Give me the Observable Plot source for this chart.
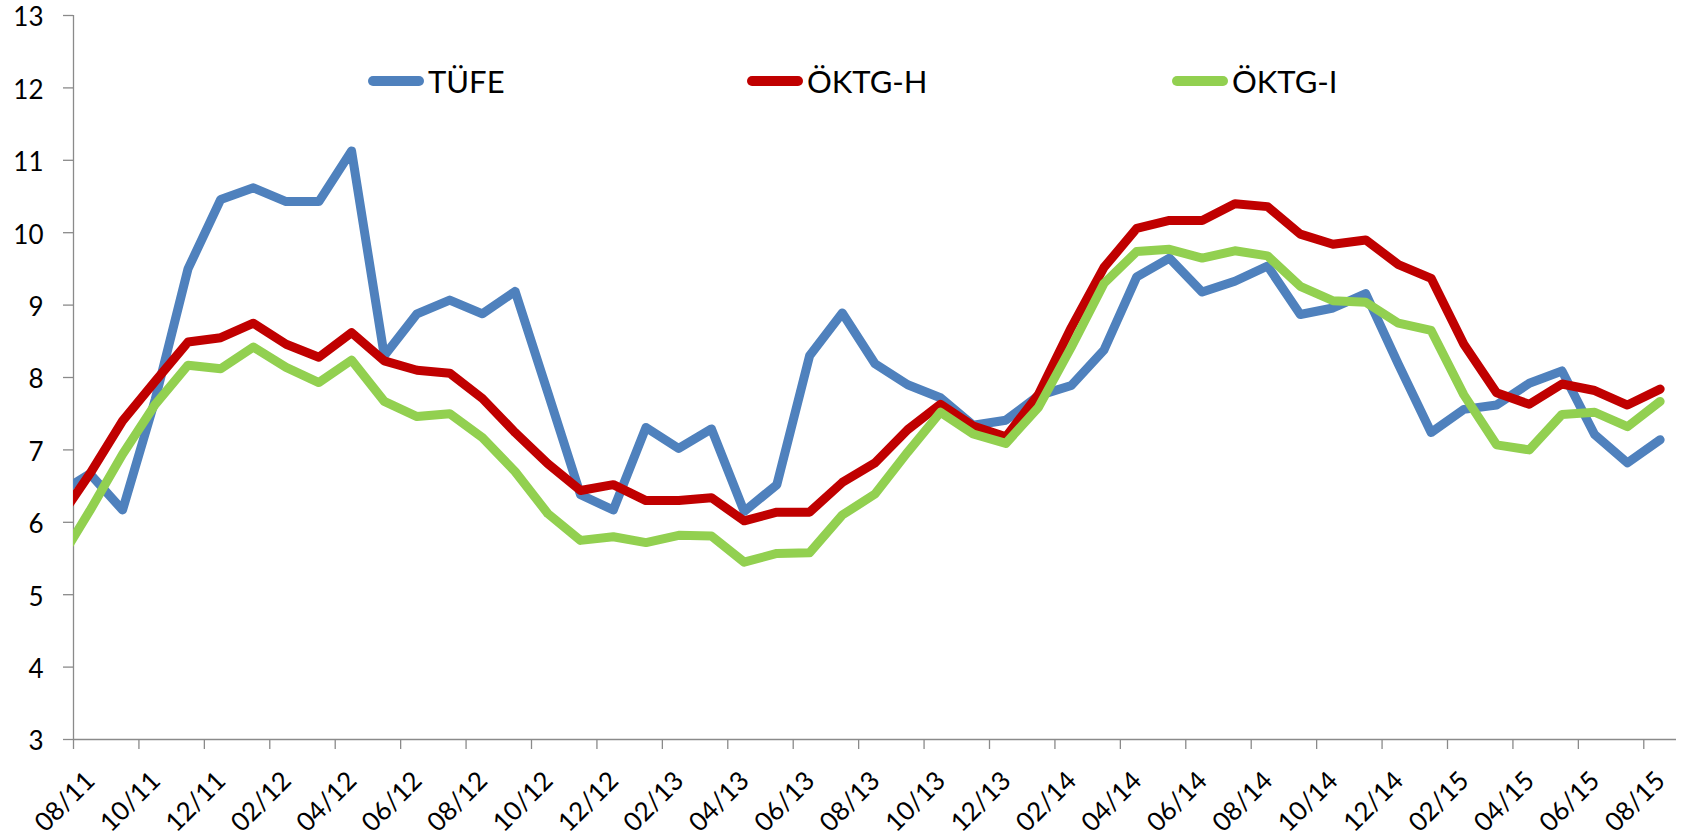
<!DOCTYPE html>
<html>
<head>
<meta charset="utf-8">
<script src="https://cdn.jsdelivr.net/npm/d3@7"></script>
<script src="https://cdn.jsdelivr.net/npm/@observablehq/plot@0.6"></script>
<style>
  html, body { margin: 0; padding: 0; background: #fff; }
  #wrap { position: relative; width: 1685px; height: 840px; font-family: Lato, "Open Sans", sans-serif; }
  .legend-item { position: absolute; display: flex; align-items: center; font-size: 31px; line-height: 36px; color: #000; white-space: nowrap; }
  .swatch { width: 56px; height: 10px; border-radius: 5px; margin-right: 4px; }
</style>
</head>
<body>
<div id="wrap"></div>
<script>
// Series (first value = 07/11, which lies just left of the axis start and is clipped)
const seriesNames = ["TÜFE", "ÖKTG-H", "ÖKTG-I"];
const seriesColors = ["#4F81BD", "#C00000", "#92D050"];

// Monthly values 07/11 … 08/15
const tufe = [6.39,
  6.67, 6.17, 7.70, 9.50, 10.46, 10.62, 10.43, 10.43, 11.13, 8.30, 8.88, 9.07,
  8.88, 9.19, 7.79, 6.38, 6.17, 7.31, 7.02, 7.29, 6.15, 6.52, 8.30, 8.89,
  8.19, 7.90, 7.72, 7.34, 7.41, 7.75, 7.89, 8.38, 9.39, 9.65, 9.18, 9.33,
  9.54, 8.87, 8.96, 9.16, 8.18, 7.24, 7.56, 7.62, 7.92, 8.09, 7.21, 6.82,
  7.14];
const oktgH = [6.01,
  6.67, 7.40, 7.95, 8.49, 8.55, 8.75, 8.46, 8.28, 8.62, 8.23, 8.10, 8.06,
  7.71, 7.24, 6.81, 6.44, 6.52, 6.30, 6.30, 6.34, 6.02, 6.14, 6.14, 6.55,
  6.82, 7.28, 7.63, 7.33, 7.18, 7.77, 8.69, 9.52, 10.06, 10.17, 10.17, 10.40,
  10.36, 9.98, 9.84, 9.90, 9.56, 9.37, 8.46, 7.79, 7.63, 7.91, 7.82, 7.62,
  7.84];
const oktgI = [5.42,
  6.16, 6.94, 7.63, 8.17, 8.12, 8.42, 8.14, 7.93, 8.24, 7.67, 7.46, 7.50,
  7.17, 6.70, 6.12, 5.75, 5.80, 5.72, 5.82, 5.81, 5.45, 5.57, 5.58, 6.10,
  6.39, 6.97, 7.52, 7.22, 7.09, 7.59, 8.42, 9.30, 9.74, 9.77, 9.65, 9.75,
  9.68, 9.26, 9.06, 9.04, 8.75, 8.65, 7.76, 7.07, 7.00, 7.49, 7.52, 7.32,
  7.67];

// Axis ticks
const tickLabels = ["08/11","10/11","12/11","02/12","04/12","06/12","08/12","10/12","12/12",
  "02/13","04/13","06/13","08/13","10/13","12/13","02/14","04/14","06/14","08/14","10/14",
  "12/14","02/15","04/15","06/15","08/15"];
const yTicks = [3, 4, 5, 6, 7, 8, 9, 10, 11, 12, 13];

const seriesValues = [tufe, oktgH, oktgI];
// month position: the 08/11 tick marks the start of that month, values sit mid-month
const rows = seriesValues.map((vals, s) =>
  vals.map((v, i) => ({series: seriesNames[s], m: i - 0.5, v})));
const tickRows = tickLabels.map((label, i) => ({label, m: 2 * i}));

const axisColor = "#8a8a8a";

const chart = Plot.plot({
  width: 1685,
  height: 840,
  marginLeft: 73,
  marginRight: 9,
  marginTop: 15,
  marginBottom: 101,
  style: {fontFamily: "Lato, 'Open Sans', sans-serif", fontSize: "26px", color: "#000", background: "#fff"},
  x: {domain: [0, (tickLabels.length - 1) * 2 + 1], axis: null},
  y: {domain: [yTicks[0], yTicks[yTicks.length - 1]], axis: null},
  marks: [
    Plot.axisY({ticks: yTicks, tickSize: 10, stroke: axisColor, strokeWidth: 1.3,
      label: null, tickFormat: () => ""}),
    Plot.text(yTicks, {y: d => d, frameAnchor: "left", text: d => String(d), textAnchor: "end",
      lineAnchor: "middle", dx: -30, dy: 2.5, fontSize: 26, fill: "#000"}),
    Plot.axisX({ticks: tickRows.map(d => d.m), tickSize: 10, stroke: axisColor, strokeWidth: 1.3,
      tickFormat: () => "", label: null}),
    Plot.text(tickRows, {x: "m", frameAnchor: "bottom", text: "label", rotate: -45,
      textAnchor: "end", lineAnchor: "middle", dx: 17, dy: 37, fontSize: 26, fill: "#000"}),
    Plot.ruleX([0], {stroke: axisColor, strokeWidth: 1.3}),
    Plot.ruleY([yTicks[0]], {stroke: axisColor, strokeWidth: 1.3}),
    ...rows.map((r, s) => Plot.line(r, {x: "m", y: "v", stroke: seriesColors[s], strokeWidth: 9,
      strokeLinecap: "round", strokeLinejoin: "round", clip: true}))
  ]
});

const wrap = document.getElementById("wrap");
wrap.appendChild(chart);

// Legend drawn inside the plot area, as in the original
const legendLeft = [368, 747, 1172];
seriesNames.forEach((name, i) => {
  const item = document.createElement("div");
  item.className = "legend-item";
  item.style.left = legendLeft[i] + "px";
  item.style.top = "63px";
  const sw = document.createElement("div");
  sw.className = "swatch";
  sw.style.background = seriesColors[i];
  const t = document.createElement("span");
  t.textContent = name;
  item.appendChild(sw);
  item.appendChild(t);
  wrap.appendChild(item);
});
</script>
</body>
</html>
